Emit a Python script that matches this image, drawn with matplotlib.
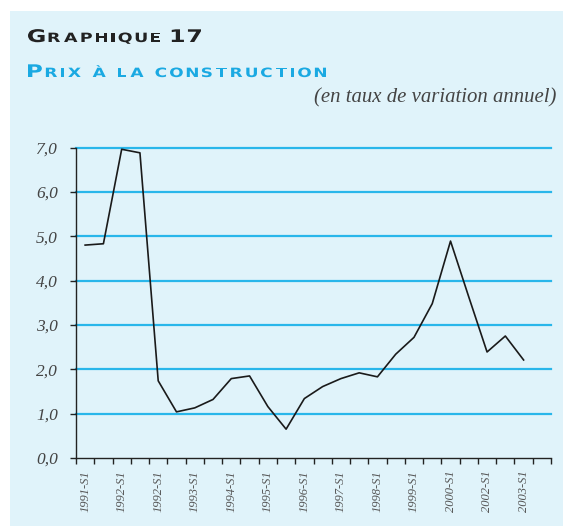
import matplotlib
matplotlib.use("Agg")
import matplotlib.pyplot as plt
from matplotlib.patches import Rectangle, PathPatch
from matplotlib.textpath import TextPath
from matplotlib.font_manager import FontProperties
from matplotlib.transforms import Affine2D, IdentityTransform

# Données (taux de variation annuel, %)
values = [4.80, 4.83, 6.96, 6.88, 1.74, 1.04, 1.13, 1.32, 1.79, 1.85,
          1.16, 0.65, 1.34, 1.61, 1.79, 1.92, 1.83, 2.34, 2.72, 3.48,
          4.89, 3.63, 2.39, 2.75, 2.21]
tick_labels = ["1991-S1", "1992-S1", "1992-S1", "1993-S1", "1994-S1", "1995-S1",
               "1996-S1", "1997-S1", "1998-S1", "1999-S1", "2000-S1", "2002-S1",
               "2003-S1"]
y_ticks = [0, 1, 2, 3, 4, 5, 6, 7]
n_slots = 26

W, H = 563, 526
bg = "#E0F3FA"
grid_blue = "#29B6EA"
title_blue = "#1AA9E2"

fig = plt.figure(figsize=(W / 100, H / 100), dpi=100)
fig.patch.set_facecolor("white")
fig.patches.append(Rectangle((10 / W, 0), 1 - 10 / W, 1 - 11 / H,
                             transform=fig.transFigure, facecolor=bg,
                             edgecolor="none", zorder=-10))

ax = fig.add_axes([76 / W, (H - 458) / H, (551 - 76) / W, (458 - 147.5) / H])
ax.set_facecolor("none")

x = list(range(len(values)))
for yv in y_ticks[1:]:
    ax.axhline(yv, color=grid_blue, lw=1.6, clip_on=False, zorder=1)
ax.plot(x, values, color="#1a1a1a", lw=1.2, zorder=3)

ax.set_xlim(-0.5, n_slots - 0.5)
ax.set_ylim(0, 7)

for s in ["top", "right"]:
    ax.spines[s].set_visible(False)
for s in ["left", "bottom"]:
    ax.spines[s].set_color("#222222")
    ax.spines[s].set_linewidth(1.0)
    ax.spines[s].set_zorder(4)

serif = "Liberation Serif"
ax.set_yticks(y_ticks)
ax.set_yticklabels([f"{v:.1f}".replace(".", ",") for v in y_ticks],
                   family=serif, style="italic", fontsize=12.5, color="#444444")
ax.tick_params(axis="y", length=4.5, width=1, color="#222222", pad=8.5)

ax.set_xticks(x[::2])
ax.set_xticklabels(tick_labels, rotation=90, family=serif, style="italic",
                   fontsize=9, color="#555555")
ax.set_xticks([k - 0.5 for k in range(n_slots + 1)], minor=True)
ax.tick_params(axis="x", which="major", length=0, pad=9)
ax.tick_params(axis="x", which="minor", length=4, width=1, color="#222222",
               direction="out")


def small_caps(text, x0, x1, y0, big, small, color, gap=4.0, space=8.0):
    # fausses petites capitales, lettres élargies pour tenir entre x0 et x1
    prop = FontProperties(family="DejaVu Sans", weight="bold")
    glyphs = []
    for ch in text:
        if ch == " ":
            glyphs.append(None)
            continue
        size = small if ch.islower() else big
        p = TextPath((0, 0), ch.upper(), size=size, prop=prop)
        ext = p.get_extents()
        glyphs.append((p, ext.x0, ext.width))
    fixed = gap * (len(text) - 1) + space * text.count(" ")
    used = sum(g[2] for g in glyphs if g is not None)
    sx = (x1 - x0 - fixed) / used
    xp = x0
    for g in glyphs:
        if g is None:
            xp += space
            continue
        p, off, w = g
        tr = Affine2D().translate(-off, 0).scale(sx, 1).translate(xp, H - y0)
        fig.patches.append(PathPatch(tr.transform_path(p), facecolor=color,
                                     edgecolor="none",
                                     transform=IdentityTransform()))
        xp += w * sx + gap


small_caps("Graphique 17", 28, 205, 42, 17.4, 12.8, "#222222")
small_caps("Prix à la construction", 28, 338, 77, 17.4, 12.8, title_blue)

sub = fig.text(556 / W, 1 - 98 / H, "(en taux de variation annuel)",
               family=serif, style="italic", fontsize=14, color="#444444",
               ha="right", va="center")
fig.canvas.draw()
wpx = sub.get_window_extent(renderer=fig.canvas.get_renderer()).width
sub.set_fontsize(14 * 243 / wpx)

fig.savefig("out.png", dpi=100, facecolor=fig.get_facecolor())
